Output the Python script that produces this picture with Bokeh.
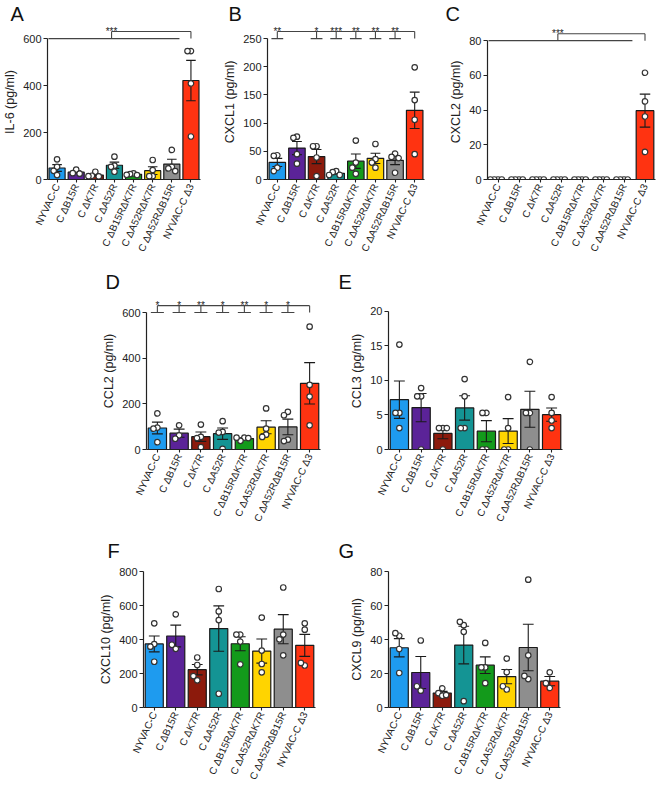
import math
import numpy as np
from bokeh.plotting import figure
from bokeh.layouts import column, row
from bokeh.models import Range1d, FixedTicker
from bokeh.embed import file_html
from bokeh.resources import INLINE
from bokeh.core.properties import value

groups = ["NYVAC-C", "C ΔB15R", "C ΔK7R", "C ΔA52R", "C ΔB15RΔK7R",
          "C ΔA52RΔK7R", "C ΔA52RΔB15R", "NYVAC-C Δ3"]
colors = ["#1E9BEF", "#5B2398", "#8C1A0C", "#149494", "#139A1B",
          "#FFD400", "#8E8E8E", "#FF3311"]

il6 = [[86, 54, 37, 19], [42, 27, 25], [33, 16, 13, 14], [97, 59, 54, 33],
       [26, 23, 19, 20], [83, 40, 14, 14], [126, 54, 47, 36], [547, 547, 409, 183]]
cxcl1 = [[43, 42, 21, 15], [76, 74, 45, 28], [59, 59, 39, 6], [15, 13, 8, 8],
         [69, 30, 21, 10], [63, 36, 30, 21], [46, 40, 38, 12], [199, 141, 106, 45]]
cxcl2 = [[0, 0, 0, 0], [0, 0, 0, 0], [0, 0, 0, 0], [0, 0, 0, 0],
         [0, 0, 0, 0], [0, 0, 0, 0], [0, 0, 0, 0], [61.5, 45, 36.3, 15.9]]
ccl2 = [[158, 96, 91, 32], [106, 62, 47], [109, 55, 50, 10], [124, 77, 74, 3],
        [52, 38, 50, 52], [180, 91, 65, 55], [165, 150, 43, 37], [538, 283, 232, 106]]
ccl3 = [[15.2, 5.3, 5.3, 3.1], [8.9, 7.7, 7.7, 0], [3.1, 3.1, 3.1, 0], [10.2, 7.7, 3.1, 3.1],
        [5.3, 5.3, 0, 0], [7.6, 3.1, 0, 0], [12.7, 5.3, 5.3, 0], [7.6, 5.3, 4.2, 3.1]]
cxcl10 = [[495, 373, 358, 269], [548, 345, 369], [294, 250, 160, 185], [697, 565, 514, 81],
          [429, 429, 388, 254], [529, 335, 256, 207], [706, 429, 401, 307], [495, 458, 247, 262]]
cxcl9 = [[42.2, 43.7, 34.4, 20.3], [39.4, 9.9, 12.5], [11.3, 8.4, 6.9, 7.3], [48.4, 50.4, 44.5, 3.7],
         [38, 23.6, 23.6, 14.3], [28.8, 20.8, 10.6, 12.5], [75.2, 30.7, 16.7, 18.6], [20.7, 11.5, 14.3]]

sig_B = {0: "**", 2: "*", 3: "***", 4: "**", 5: "**", 6: "**"}
sig_D = {0: "*", 1: "*", 2: "**", 3: "*", 4: "**", 5: "*", 6: "*"}

FONT = "Liberation Sans"
INK = "#222222"


def swarm(vals, px_per_unit, d=0.18, thr=5.5):
    placed, offs = [], []
    for v in vals:
        for k in [0, -1, 1, -2, 2]:
            if all(abs(v - pv) * px_per_unit >= thr or pk != k for pv, pk in placed):
                break
        placed.append((v, k))
        offs.append(k * d)
    return offs


def panel(letter, ylabel, data, ytop, ystep, yend, geom, letter_off, letter_standoff,
          bracket=None, sig=None):
    W, H, bl, br, bt, bb = geom
    p = figure(width=W, height=H, x_range=Range1d(-0.5, 7.5), y_range=Range1d(0, yend),
               output_backend="svg", toolbar_location=None,
               min_border_left=bl, min_border_right=br, min_border_top=bt, min_border_bottom=bb)
    p.outline_line_color = None
    p.grid.visible = False
    p.background_fill_color = None
    p.border_fill_color = None

    # panel letter as the plot title
    p.title.text = letter
    p.title.align = "left"
    p.title.offset = letter_off
    p.title.vertical_align = "bottom"
    p.title.standoff = letter_standoff
    p.title.text_font = FONT
    p.title.text_font_size = "20px"
    p.title.text_font_style = "normal"
    p.title.text_color = "#111111"

    n = len(data)
    xs = list(range(n))
    means = [float(np.mean(v)) for v in data]
    sems = [float(np.std(v, ddof=1) / math.sqrt(len(v))) for v in data]

    p.vbar(x=xs, top=means, bottom=0, width=0.84, fill_color=colors,
           line_color="#1a1a1a", line_width=1.2)

    # error bars (mean +/- SEM)
    ex0, ey0, ex1, ey1 = [], [], [], []
    for i, (m, s) in enumerate(zip(means, sems)):
        if s <= 0:
            continue
        ex0 += [i, i - 0.25, i - 0.25]
        ex1 += [i, i + 0.25, i + 0.25]
        ey0 += [m - s, m + s, m - s]
        ey1 += [m + s, m + s, m - s]
    p.segment(x0=ex0, y0=ey0, x1=ex1, y1=ey1, line_color="#1a1a1a", line_width=1.1)

    # individual points
    frame_h = H - max(bt, 25) - bb
    ppu = frame_h / yend
    px, py = [], []
    for i, vals in enumerate(data):
        offs = swarm(vals, ppu)
        px += [i + o for o in offs]
        py += list(vals)
    p.scatter(px, py, size=5.5, fill_color="white", line_color="#333333", line_width=1.2)

    # significance brackets
    U = ytop * 1.05
    if bracket == "group":
        xm = 2.85
        p.segment(x0=[-0.45, xm, xm, n - 1], y0=[ytop, ytop, U, U],
                  x1=[n - 2 + 0.4, xm, n - 1, n - 1], y1=[ytop, U, U, ytop],
                  line_color="#444444", line_width=1.1)
        p.text(x=[xm], y=[U], text=["***"], text_align="center", text_baseline="alphabetic",
               text_font=value(FONT), text_font_size="10px", text_color=INK)
    elif bracket == "each":
        sx0, sy0, sx1, sy1 = [0, n - 1], [U, U], [n - 1, n - 1], [U, ytop]
        for i in sig:
            sx0 += [i - 0.3, i]
            sx1 += [i + 0.3, i]
            sy0 += [ytop, ytop]
            sy1 += [ytop, U]
        p.segment(x0=sx0, y0=sy0, x1=sx1, y1=sy1, line_color="#444444", line_width=1.1)
        p.text(x=list(sig.keys()), y=[U] * len(sig), text=list(sig.values()),
               text_align="center", text_baseline="alphabetic",
               text_font=value(FONT), text_font_size="10px", text_color=INK)

    # axes
    for ax in (p.xaxis[0], p.yaxis[0]):
        ax.axis_line_color = INK
        ax.axis_line_width = 1.2
        ax.major_tick_line_color = INK
        ax.major_tick_line_width = 1.1
        ax.major_tick_in = 0
        ax.minor_tick_line_color = None
        ax.major_label_text_font = FONT
        ax.major_label_text_color = INK
        ax.major_label_standoff = 2

    xa = p.xaxis[0]
    xa.ticker = FixedTicker(ticks=xs)
    xa.major_label_overrides = {i: g for i, g in enumerate(groups)}
    xa.major_label_orientation = math.radians(65)
    xa.major_label_text_font_size = "10px"
    xa.major_tick_out = 3

    ya = p.yaxis[0]
    ya.bounds = (0, ytop)
    ya.ticker = FixedTicker(ticks=list(np.arange(0, ytop + ystep / 2, ystep)))
    ya.major_tick_out = 4
    ya.major_label_text_font_size = "11px"
    ya.axis_label = ylabel
    ya.axis_label_text_font = FONT
    ya.axis_label_text_font_style = "normal"
    ya.axis_label_text_font_size = "12.5px"
    ya.axis_label_text_color = INK
    ya.axis_label_standoff = 3
    return p


# geometry: (width, height, border_left, border_right, border_top, border_bottom)
pA = panel("A", "IL-6 (pg/ml)", il6, 600, 200, 660,
           (220, 268, 43, 20, 18, 89), -37, 0, bracket="group")
pB = panel("B", "CXCL1 (pg/ml)", cxcl1, 250, 50, 275,
           (217, 268, 41, 13, 18, 89), -39, 0, bracket="each", sig=sig_B)
pC = panel("C", "CXCL2 (pg/ml)", cxcl2, 80, 20, 89.3,
           (223, 268, 50, 5, 18, 89), -42, 0, bracket="group")
pD = panel("D", "CCL2 (pg/ml)", ccl2, 600, 200, 687.6,
           (330, 260, 146, 10, 24, 78), -41, 0, bracket="each", sig=sig_D)
pE = panel("E", "CCL3 (pg/ml)", ccl3, 20, 5, 22.75,
           (330, 260, 58, 98, 24, 78), -50, 0)
pF = panel("F", "CXCL10 (pg/ml)", cxcl10, 800, 200, 800,
           (330, 258, 143, 15, 43, 79), -36, 19)
pG = panel("G", "CXCL9 (pg/ml)", cxcl9, 80, 20, 80,
           (330, 258, 58, 100, 43, 79), -50, 19)

layout = column(row(pA, pB, pC, spacing=0), row(pD, pE, spacing=0),
                row(pF, pG, spacing=0), spacing=0)

open("out.html", "w").write(file_html(layout, INLINE))
